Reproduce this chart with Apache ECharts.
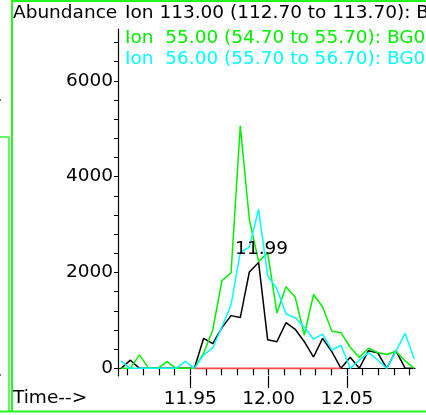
<!DOCTYPE html>
<html>
<head>
<meta charset="utf-8">
<script src="https://cdn.jsdelivr.net/npm/echarts@6/dist/echarts.min.js"></script>
<style>
	html, body { margin: 0; padding: 0; background: #fff; }
	#chart { width: 426px; height: 415px; }
</style>
</head>
<body>
<div id="chart"></div>
<script>
// scan times (min)
const times = [
	11.9058, 11.9117, 11.9175, 11.9234, 11.9292, 11.9351, 11.9409, 11.9468, 11.9526, 11.9585,
	11.9643, 11.9702, 11.9760, 11.9819, 11.9877, 11.9936, 11.9994, 12.0053, 12.0111, 12.0170,
	12.0228, 12.0287, 12.0345, 12.0404, 12.0462, 12.0521, 12.0579, 12.0638, 12.0696, 12.0755,
	12.0813, 12.0872, 12.0930,
];
// extracted ion abundances
const ion113 = [
	0, 170, 0, 0, 0, 0, 0, 0, 0, 626,
	515, 850, 1100, 1060, 2010, 2210, 595, 556, 952, 814,
	556, 236, 626, 347, 0, 230, 0, 368, 326, 0,
	368, 0, 0,
];
const ion55 = [
	0, 0, 280, 0, 0, 140, 0, 0, 0, 313,
	800, 1830, 1990, 5060, 3100, 2230, 2410, 1155, 1700, 1482,
	695, 1540, 1280, 775, 743, 440, 225, 418, 330, 290,
	358, 155, 0,
];
const ion56 = [
	150, 0, 0, 0, 0, 0, 0, 145, 0, 278,
	425, 869, 1322, 2420, 2530, 3320, 1930, 1660, 1134, 1055,
	856, 608, 713, 382, 480, 0, 170, 326, 173, 0,
	358, 731, 195,
];
// integration baseline of the 113 peak
const baseStart = 11.9526;
const baseEnd = 12.0462;

const traceNames = [
	'Ion 113.00 (112.70 to 113.70): BG0',
	'Ion  55.00 (54.70 to 55.70): BG0',
	'Ion  56.00 (55.70 to 56.70): BG0',
];
const yTickValues = [0, 400, 800, 1200, 1600, 2000, 2400, 2800, 3200, 3600, 4000, 4400, 4800, 5200, 5600, 6000, 6400, 6800];
const yLabelValues = [0, 2000, 4000, 6000];
const xMinorTicks = [11.91, 11.92, 11.93, 11.94, 11.95, 11.96, 11.97, 11.98, 11.99, 12.00, 12.01, 12.02, 12.03, 12.04, 12.05, 12.06, 12.07, 12.08, 12.09];
const xMajorTicks = [11.95, 12.00, 12.05];

const FONT = 'DejaVu Sans';
const FSIZE = 18.5;
const frameColor = '#22f822';
const greenColor = '#00f000';
const cyanColor = '#00ffff';

function toPairs(values) {
	return times.map((t, i) => [t, values[i]]);
}

// apex of the 113 trace, labelled with its retention time
let peakIdx = 0;
ion113.forEach((v, i) => {
	if (v > ion113[peakIdx]) peakIdx = i;
});

const chart = echarts.init(document.getElementById('chart'));

const xCommon = {
	type: 'value',
	min: 11.9038,
	max: 12.0935,
	position: 'bottom',
	splitLine: { show: false },
};

const option = {
	animation: false,
	backgroundColor: '#fff',
	grid: { left: 118, right: 11, top: 29, bottom: 39 },
	xAxis: [
		Object.assign({}, xCommon, {
			axisLine: { show: true, lineStyle: { color: '#000', width: 1.2 } },
			axisTick: { show: true, length: 7, customValues: xMinorTicks, lineStyle: { color: '#000', width: 1.2 } },
			axisLabel: { show: false },
		}),
		Object.assign({}, xCommon, {
			axisLine: { show: false },
			axisTick: { show: true, length: 12, customValues: xMajorTicks, lineStyle: { color: '#000', width: 1.2 } },
			axisLabel: {
				show: true,
				customValues: xMajorTicks,
				margin: 14,
				color: '#000',
				fontFamily: FONT,
				fontSize: FSIZE,
				formatter: (v) => v.toFixed(2),
			},
		}),
	],
	yAxis: {
		type: 'value',
		min: -160,
		max: 7080,
		splitLine: { show: false },
		axisLine: { show: true, lineStyle: { color: '#000', width: 1.2 } },
		axisTick: { show: true, length: 4, customValues: yTickValues, lineStyle: { color: '#000', width: 1 } },
		axisLabel: {
			customValues: yLabelValues,
			margin: 5,
			color: '#000',
			fontFamily: FONT,
			fontSize: FSIZE,
			formatter: (v) => String(v),
		},
	},
	series: [
		{
			name: traceNames[0],
			type: 'line',
			data: toPairs(ion113),
			symbol: 'none',
			lineStyle: { color: '#000', width: 1.5 },
			itemStyle: { color: '#000' },
			z: 2,
			markPoint: {
				symbol: 'circle',
				symbolSize: 0,
				data: [{ coord: [times[peakIdx], ion113[peakIdx]], value: times[peakIdx] }],
				label: {
					show: true,
					position: 'top',
					distance: 4,
					offset: [3, 0],
					formatter: (p) => p.value.toFixed(2),
					color: '#000',
					fontFamily: FONT,
					fontSize: FSIZE,
				},
			},
		},
		{
			name: traceNames[1],
			type: 'line',
			data: toPairs(ion55),
			symbol: 'none',
			lineStyle: { color: greenColor, width: 1.5 },
			z: 3,
		},
		{
			name: traceNames[2],
			type: 'line',
			data: toPairs(ion56),
			symbol: 'none',
			lineStyle: { color: cyanColor, width: 1.5 },
			z: 4,
		},
		{
			name: 'baseline',
			type: 'line',
			data: [[baseStart, 0], [baseEnd, 0]],
			symbol: 'none',
			lineStyle: { color: '#ff4a4a', width: 1.7 },
			z: 5,
		},
	],
	graphic: [
		// window frame
		{ type: 'line', shape: { x1: 11, y1: 1, x2: 426, y2: 1 }, style: { stroke: frameColor, lineWidth: 2 } },
		{ type: 'line', shape: { x1: 12, y1: 0, x2: 12, y2: 412 }, style: { stroke: frameColor, lineWidth: 2 } },
		{ type: 'line', shape: { x1: 0, y1: 411.5, x2: 426, y2: 411.5 }, style: { stroke: frameColor, lineWidth: 2 } },
		{ type: 'line', shape: { x1: 9, y1: 137, x2: 9, y2: 412 }, style: { stroke: frameColor, lineWidth: 1.4 } },
		{ type: 'line', shape: { x1: 0, y1: 137, x2: 9, y2: 137 }, style: { stroke: frameColor, lineWidth: 1.4 } },
		{ type: 'rect', shape: { x: 0, y: 99, width: 1, height: 2 }, style: { fill: '#777' } },
		{ type: 'rect', shape: { x: 0, y: 374, width: 1, height: 2 }, style: { fill: '#777' } },
		// titles
		{ type: 'text', left: 13, top: 4, style: { text: 'Abundance', fill: '#000', font: FSIZE + 'px "' + FONT + '"' } },
		{ type: 'text', left: 125, top: 4, style: { text: traceNames[0], fill: '#000', font: FSIZE + 'px "' + FONT + '"' } },
		{ type: 'text', left: 125, top: 29, style: { text: traceNames[1], fill: greenColor, font: FSIZE + 'px "' + FONT + '"' } },
		{ type: 'text', left: 125, top: 50, style: { text: traceNames[2], fill: cyanColor, font: FSIZE + 'px "' + FONT + '"' } },
		{ type: 'text', left: 13, top: 389, style: { text: 'Time-->', fill: '#000', font: FSIZE + 'px "' + FONT + '"' } },
	],
};

chart.setOption(option);
</script>
</body>
</html>
